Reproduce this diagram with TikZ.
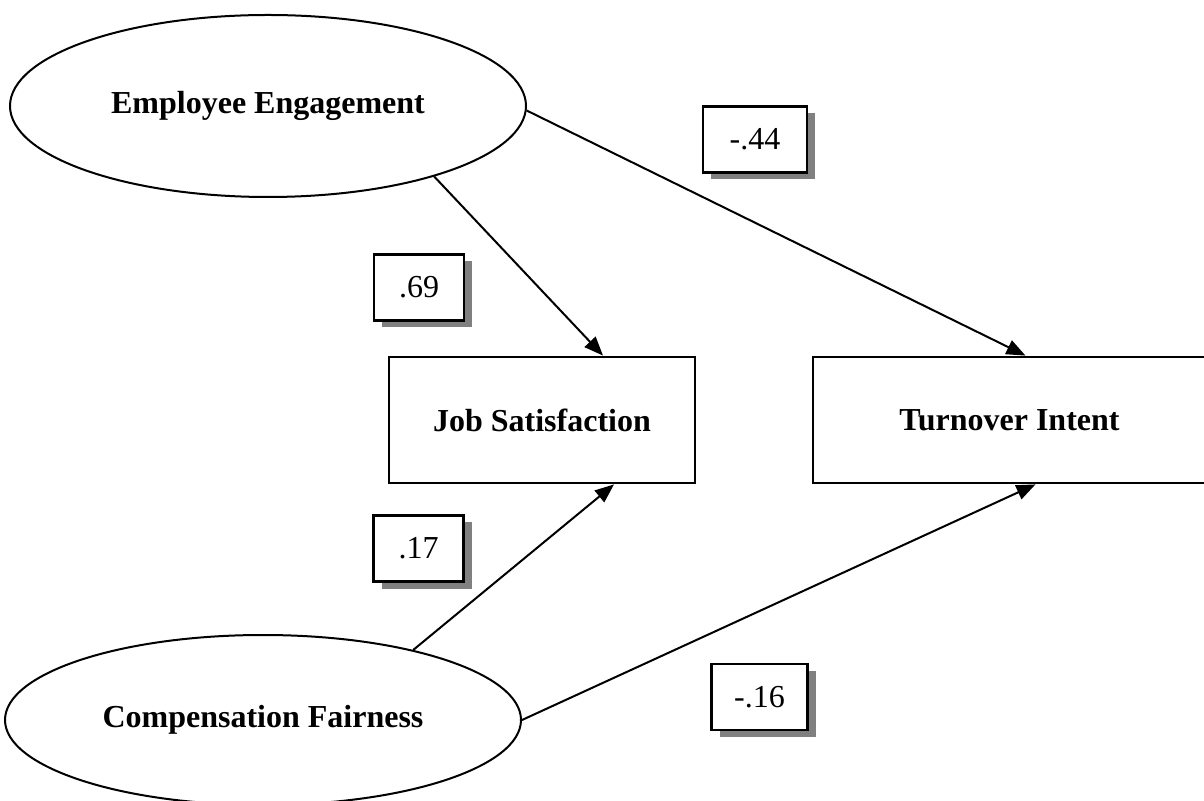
\documentclass[tikz,border=0pt]{standalone}
\usepackage{fontspec}
\setmainfont{Liberation Serif}
\usetikzlibrary{shapes.geometric,shadows,arrows.meta}
\begin{document}
\begin{tikzpicture}[x=0.5pt,y=-0.5pt]
	\tikzstyle{every node}+=[inner sep=0pt,font=\fontsize{16}{19}\selectfont]
	\tikzstyle{latent}=[draw,line width=1pt,ellipse,minimum width=258pt,font=\fontsize{16}{19}\selectfont\bfseries]
	\tikzstyle{observed}=[draw,line width=1.4pt,rectangle,minimum height=63pt,font=\fontsize{16}{19}\selectfont\bfseries]
	\tikzstyle{coef}=[draw,line width=1.4pt,fill=white,minimum height=33pt,drop shadow={shadow xshift=4pt,shadow yshift=-3.5pt,fill=black!50,opacity=1}]
	\tikzstyle{effect}=[line width=1pt,-{Triangle[length=9.5pt,width=7.5pt]}]
	\useasboundingbox (0,0) rectangle (1204,801);
	% variables
	\node [latent,minimum height=91pt] (ee) at (268,106) {Employee Engagement};
	\node [latent,minimum height=85pt] (cf) at (263,720) {Compensation Fairness};
	\node [observed,minimum width=153pt] (js) at (542,420) {Job Satisfaction};
	\node [observed,minimum width=196.5pt] (ti) at (1009.5,420) {Turnover Intent};
	% paths
	\draw [effect] (ee.-23.2) -- ([xshift=30.5pt]js.north);
	\draw [effect] (ee.-1.1) -- ([xshift=8pt]ti.north);
	\draw [effect] (cf.25.5) -- ([xshift=36pt]js.south);
	\draw [effect] (cf.0) -- ([xshift=13pt]ti.south);
	% coefficients
	\node [coef,minimum width=52pt] (c44) at (755,139.5) {-.44};
	\node [coef,minimum width=45pt] (c69) at (419,287.5) {.69};
	\node [coef,minimum width=45pt] (c17) at (418.5,548.5) {.17};
	\node [coef,minimum width=48pt] (c16) at (759.5,697) {-.16};
\end{tikzpicture}
\end{document}
